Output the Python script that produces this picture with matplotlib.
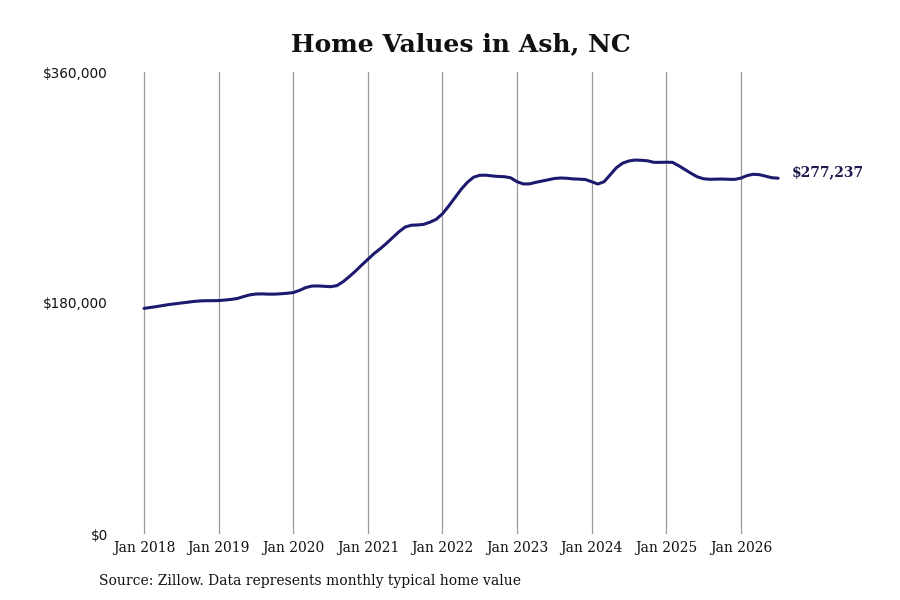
import matplotlib
matplotlib.use("Agg")
import matplotlib.pyplot as plt
import numpy as np

# Monthly typical home value, Jan 2018 onwards (USD)
values = [
    175800, 176500, 177200, 178000, 178800, 179400, 180000, 180600, 181200, 181600, 181800, 181800,
    181900, 182300, 182800, 183500, 185000, 186300, 187000, 187100, 186900, 186900, 187200, 187600,
    188100, 189800, 192000, 193200, 193300, 193000, 192700, 193500, 196500, 200500, 204800, 209500,
    214000, 218500, 222300, 226500, 231000, 235500, 239200, 240600, 240800, 241300, 243000, 245200,
    249500, 255500, 262000, 268500, 274000, 278000, 279500, 279600, 279000, 278600, 278400, 277500,
    274500, 272800, 272800, 274000, 275000, 276000, 277000, 277400, 277200, 276700, 276500, 276200,
    274500, 272700, 274500, 280000, 285500, 289000, 290700, 291400, 291200, 290800, 289600, 289600,
    289700, 289600, 287000, 284000, 281000, 278300, 276800, 276400, 276500, 276600, 276400, 276300,
    277300, 279300, 280300, 280000, 278800, 277600, 277237,
]
tick_labels = ["Jan 2018", "Jan 2019", "Jan 2020", "Jan 2021", "Jan 2022",
               "Jan 2023", "Jan 2024", "Jan 2025", "Jan 2026"]
y_ticks = [0, 180000, 360000]
y_tick_labels = ["$0", "$180,000", "$360,000"]
title = "Home Values in Ash, NC"
source = "Source: Zillow. Data represents monthly typical home value"
end_label = "$277,237"

months = np.arange(len(values))
tick_pos = np.arange(len(tick_labels)) * 12

fig = plt.figure(figsize=(9, 6), dpi=100)
ax = fig.add_axes([112/900, 1 - 534/600, (785 - 112)/900, (534 - 72)/600])

line_color = "#1c1a6e"
ax.plot(months, values, color=line_color, lw=2.2, solid_capstyle="round")

ax.set_ylim(0, 360000)
ax.set_xlim(-5.15, 103.1)
ax.set_xticks(tick_pos)
ax.set_xticklabels(tick_labels, family="DejaVu Serif", fontsize=10)
ax.set_yticks(y_ticks)
ax.set_yticklabels(y_tick_labels, family="DejaVu Sans", fontsize=9.8)
ax.tick_params(axis="both", length=0, colors="#111111")
ax.tick_params(axis="x", pad=5)
ax.tick_params(axis="y", pad=3)
ax.grid(axis="x", color="#999999", lw=0.9)
ax.grid(axis="y", visible=False)
for s in ax.spines.values():
    s.set_visible(False)

ax.annotate(end_label, xy=(months[-1], values[-1]), xytext=(10, 4),
            textcoords="offset points", va="center", ha="left",
            family="DejaVu Serif", fontweight="bold", fontsize=10, color="#1c1a4e")

fig.text(461/900, 1 - 44/600, title, ha="center", va="center",
         family="DejaVu Serif", fontweight="bold", fontsize=18, color="#111111")
fig.text(99/900, 1 - 581/600, source, ha="left", va="center",
         family="DejaVu Serif", fontsize=10, color="#111111")

fig.savefig("out.png", dpi=100, facecolor="white")
